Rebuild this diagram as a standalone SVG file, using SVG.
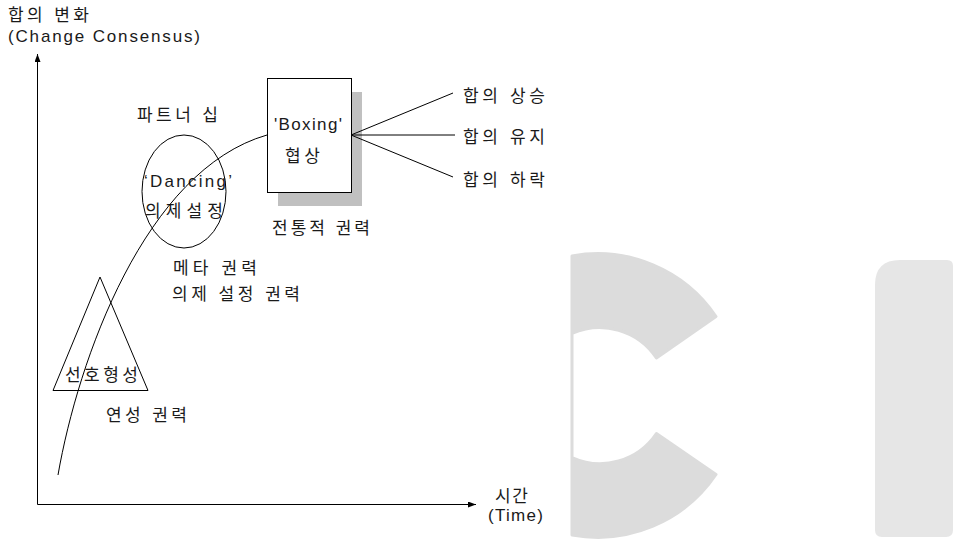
<svg xmlns="http://www.w3.org/2000/svg" width="955" height="539" viewBox="0 0 955 539">
<style>
  text { font-family: "Liberation Sans", "Noto Sans CJK KR", sans-serif; font-size: 17px; fill: #1a1a1a; }
  .ln { fill: none; stroke: #000; stroke-width: 1; }
  .wm1 { fill: #dcdcdc; }
  .wm2 { fill: #e6e6e6; }
</style>
<defs>
  <marker id="arr" markerUnits="userSpaceOnUse" markerWidth="9" markerHeight="7" refX="8" refY="3" orient="auto">
    <path d="M0,0 L8,3 L0,6 z" fill="#000"/>
  </marker>
</defs>
<rect width="955" height="539" fill="#fff"/>

<g id="watermark">
  <path class="wm1" stroke="#dcdcdc" stroke-width="3" stroke-linejoin="round" d="M572,256 A143,143 0 0 1 716,316.5 L656.4,358 A68,68 0 0 0 572,333.5 L572,457.5 A68,68 0 0 0 656.4,433.5 L716,474.5 A143,143 0 0 1 572,535 Z"/>
  <path class="wm2" d="M875,285 Q875,260 900,260 L947,260 Q953,260 953,266 L953,530 Q953,537 946,537 L882,537 Q875,537 875,530 Z"/>
</g>

<g id="axes">
  <line class="ln" x1="37.5" y1="504.5" x2="37.5" y2="54" marker-end="url(#arr)"/>
  <line class="ln" x1="37.5" y1="504.5" x2="476" y2="504.5" marker-end="url(#arr)"/>
  <text x="8" y="21" textLength="81" lengthAdjust="spacing">합의 변화</text>
  <text x="8" y="42" textLength="192" lengthAdjust="spacing">(Change Consensus)</text>
  <text x="495" y="502" textLength="33" lengthAdjust="spacing">시간</text>
  <text x="488" y="521" textLength="55" lengthAdjust="spacing">(Time)</text>
</g>

<g id="node-triangle">
  <polygon class="ln" points="100,277 53,390.5 148,390.5"/>
  <text x="65" y="381" textLength="73" lengthAdjust="spacing">선호형성</text>
  <text x="106" y="421" textLength="81" lengthAdjust="spacing">연성 권력</text>
</g>

<g id="node-ellipse">
  <ellipse class="ln" cx="184" cy="191.5" rx="42" ry="56.5"/>
  <text x="137" y="121" textLength="81" lengthAdjust="spacing">파트너 십</text>
  <text x="144" y="187" textLength="88" lengthAdjust="spacing">‘Dancing’</text>
  <text x="145" y="217" textLength="78" lengthAdjust="spacing">의제설정</text>
  <text x="173" y="274" textLength="84" lengthAdjust="spacing">메타 권력</text>
  <text x="172" y="300" textLength="128" lengthAdjust="spacing">의제 설정 권력</text>
</g>

<g id="node-box">
  <rect x="278" y="92" width="84" height="114" fill="#c0c0c0"/>
  <rect x="267.5" y="78.5" width="84" height="114" fill="#fff" stroke="#000" stroke-width="1"/>
  <text x="274" y="130" textLength="68" lengthAdjust="spacing">'Boxing'</text>
  <text x="285" y="162" textLength="35" lengthAdjust="spacing">협상</text>
  <text x="272" y="234" textLength="98" lengthAdjust="spacing">전통적 권력</text>
</g>

<g id="node-outcomes">
  <text x="463" y="102" textLength="82" lengthAdjust="spacing">합의 상승</text>
  <text x="463" y="143" textLength="82" lengthAdjust="spacing">합의 유지</text>
  <text x="463" y="186" textLength="82" lengthAdjust="spacing">합의 하락</text>
</g>

<g id="connectors">
  <path class="ln" d="M58,475 C78,360 145,170 267,135"/>
  <line class="ln" x1="351" y1="135" x2="453" y2="93"/>
  <line class="ln" x1="351" y1="135" x2="455" y2="135"/>
  <line class="ln" x1="351" y1="135" x2="453" y2="177"/>
</g>
</svg>
